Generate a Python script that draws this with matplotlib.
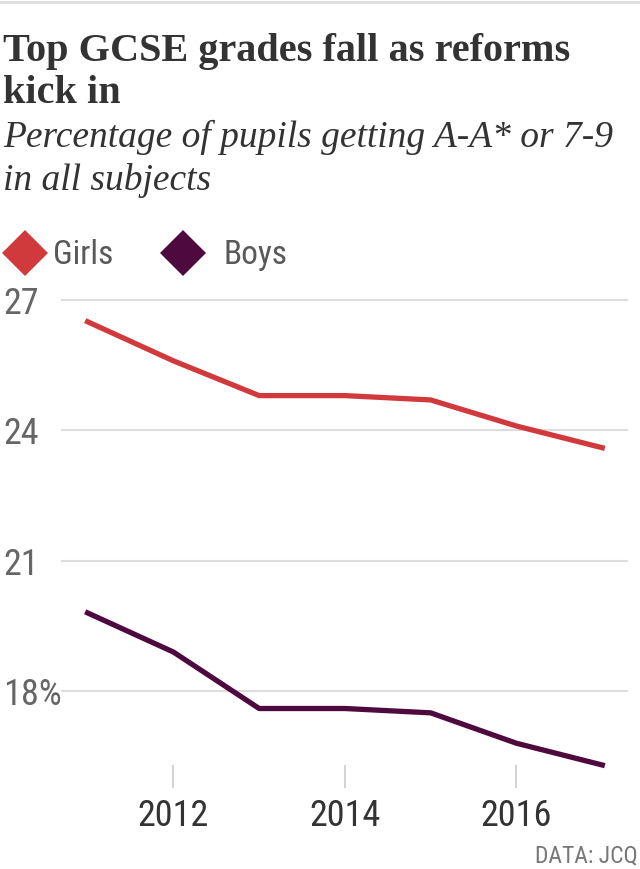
import matplotlib
matplotlib.use("Agg")
import os
import matplotlib.pyplot as plt
from matplotlib.lines import Line2D
from matplotlib.font_manager import fontManager, FontProperties

years = [2011, 2012, 2013, 2014, 2015, 2016, 2017]
girls = [26.5, 25.6, 24.8, 24.8, 24.7, 24.1, 23.6]
boys = [19.8, 18.9, 17.6, 17.6, 17.5, 16.8, 16.3]
series_names = ["Girls", "Boys"]
series_colors = ["#d13a3c", "#4e0a3f"]
y_ticks = [18, 21, 24, 27]
y_tick_labels = ["18%", "21", "24", "27"]
x_ticks = [2012, 2014, 2016]
x_tick_labels = ["2012", "2014", "2016"]


def find_condensed():
    prefs = ["LiberationSansNarrow-Regular", "RobotoCondensed-Regular", "NotoSans-Condensed.",
             "NotoSans-SemiCondensed.", "DejaVuSansCondensed.", "OpenSans_Condensed-Regular",
             "OpenSansCondensed"]
    files = [f.fname for f in fontManager.ttflist]
    for p in prefs:
        for fn in files:
            if os.path.basename(fn).startswith(p):
                return fn
    for f in fontManager.ttflist:
        b = os.path.basename(f.fname).lower()
        if ("narrow" in b or "condensed" in b) and "bold" not in b and "italic" not in b \
                and f.style == "normal":
            return f.fname
    return None


COND = find_condensed()
SERIF = "Liberation Serif"


def sans(size):
    if COND:
        return FontProperties(fname=COND, size=size)
    return FontProperties(family="Roboto", size=size * 0.88)


W, H = 640, 869
fig = plt.figure(figsize=(W / 100, H / 100), dpi=100)


def fx(px):
    return px / W


def fy(py):
    return 1 - py / H


# top rule
fig.add_artist(Line2D([0, 1], [fy(2), fy(2)], color="#dddddd", lw=2, transform=fig.transFigure))

fig.text(fx(3), fy(61), "Top GCSE grades fall as reforms", fontsize=29, fontweight="bold",
         family=SERIF, color="#333333", va="baseline", ha="left")
fig.text(fx(3), fy(103), "kick in", fontsize=29, fontweight="bold",
         family=SERIF, color="#333333", va="baseline", ha="left")
fig.text(fx(3), fy(147), "Percentage of pupils getting A-A* or 7-9", fontsize=27, style="italic",
         family=SERIF, color="#333333", va="baseline", ha="left")
fig.text(fx(3), fy(190), "in all subjects", fontsize=27, style="italic",
         family=SERIF, color="#333333", va="baseline", ha="left")

# legend
leg_diamond_x = [25, 183]
leg_text_x = [53, 223]
for name, color, dx, tx in zip(series_names, series_colors, leg_diamond_x, leg_text_x):
    fig.add_artist(Line2D([fx(dx)], [fy(253)], marker="D", markersize=23, markeredgewidth=0,
                          color=color, linestyle="none", transform=fig.transFigure))
    fig.text(fx(tx), fy(264), name, fontproperties=sans(24), color="#595959",
             va="baseline", ha="left")

ax = fig.add_axes([fx(61), fy(765), fx(628) - fx(61), fy(290) - fy(765)])
for vals, color in zip([girls, boys], series_colors):
    ax.plot(years, vals, color=color, lw=3.8, solid_joinstyle="round", clip_on=False, zorder=3)

ax.set_xlim(2010.69, 2017.30)
ax.set_ylim(16.30, 27.23)
ax.set_yticks(y_ticks)
ax.set_yticklabels(y_tick_labels, fontproperties=sans(26), color="#666666", ha="left")
ax.set_xticks(x_ticks)
ax.set_xticklabels(x_tick_labels, fontproperties=sans(26), color="#333333")
ax.tick_params(axis="y", length=0, pad=58 * 0.72)
ax.tick_params(axis="x", length=16.5, width=1.5, color="#d4d4d4", direction="out", pad=7)
ax.grid(axis="y", color="#dddddd", lw=1.5)
ax.set_axisbelow(True)
for s in ax.spines.values():
    s.set_visible(False)

fig.text(fx(638), fy(862), "DATA: JCQ", fontproperties=sans(17), color="#777777",
         va="baseline", ha="right")

fig.savefig("out.png", dpi=100)
